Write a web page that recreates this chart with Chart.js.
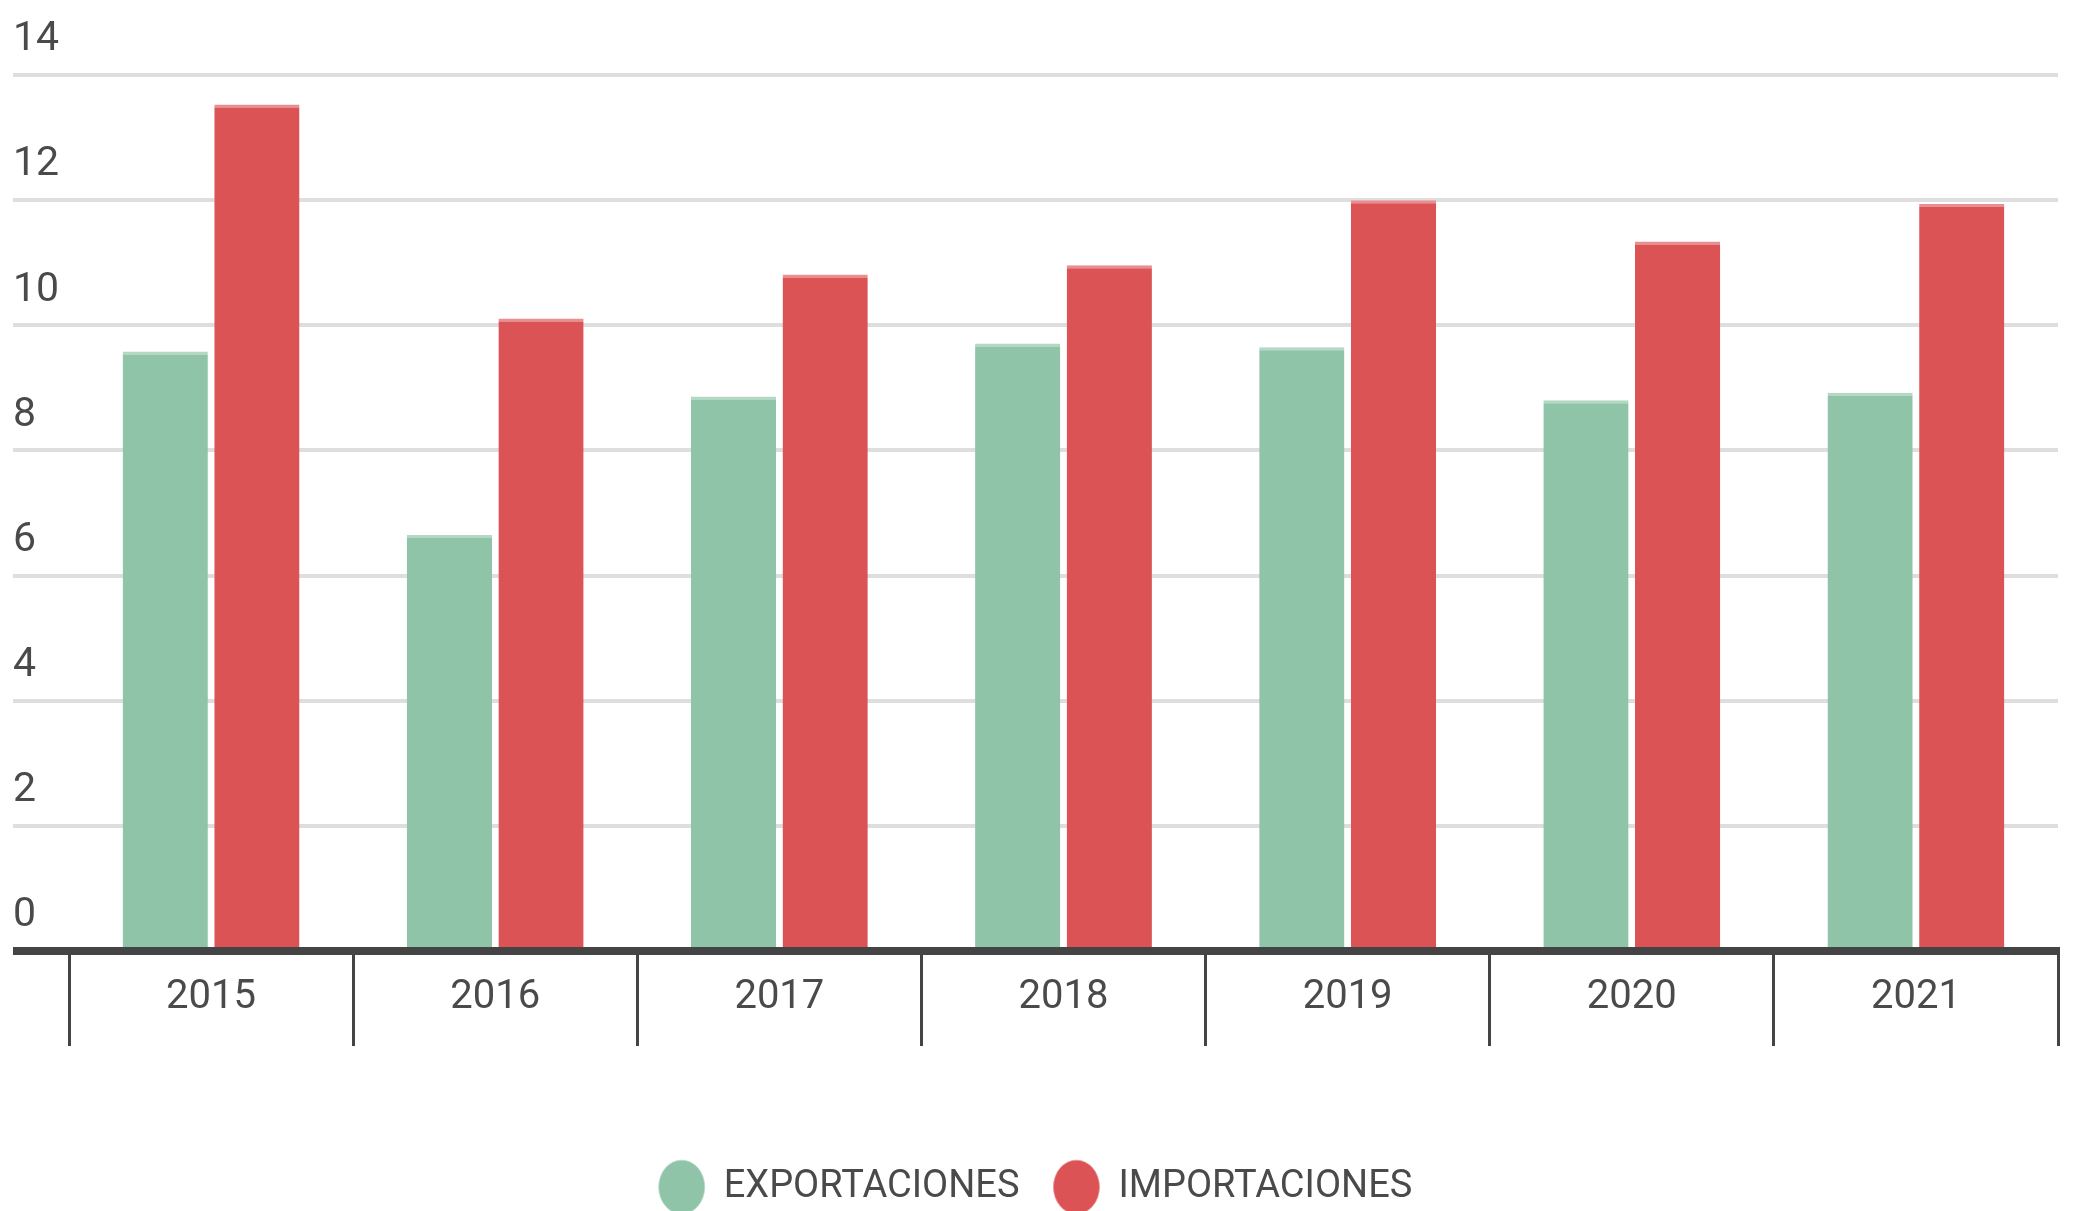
<!DOCTYPE html>
<html>
<head>
<meta charset="utf-8">
<script src="https://cdn.jsdelivr.net/npm/chart.js@4/dist/chart.umd.min.js"></script>
<style>
    body { margin: 0; background: #fff; }
    canvas { display: block; }
</style>
</head>
<body>
<canvas id="graficoComercio" width="2074" height="1211"></canvas>
<script>
const anos = ['2015', '2016', '2017', '2018', '2019', '2020', '2021']
const exportaciones = [9.58, 6.65, 8.86, 9.71, 9.65, 8.80, 8.92]
const importaciones = [13.53, 10.11, 10.81, 10.96, 12.0, 11.34, 11.94]
const ticksY = [0, 2, 4, 6, 8, 10, 12, 14]

const corTexto = '#4a4a4a'
const corEixo = '#444444'

const grafico = new Chart(document.getElementById('graficoComercio'), {
    type: 'bar',
    data: {
        labels: anos,
        datasets: [{
            label: 'EXPORTACIONES',
            data: exportaciones,
            backgroundColor: '#8fc4a9',
            borderColor: '#b3d9c5',
            borderWidth: { top: 3, left: 0, right: 0, bottom: 0 },
            borderSkipped: 'start'
        }, {
            label: 'IMPORTACIONES',
            data: importaciones,
            backgroundColor: '#dc5356',
            borderColor: '#ea8f91',
            borderWidth: { top: 3, left: 0, right: 0, bottom: 0 },
            borderSkipped: 'start'
        }]
    },
    options: {
        responsive: false,
        animation: false,
        categoryPercentage: 0.645,
        barPercentage: 0.93,
        layout: {
            padding: { top: 75, left: 13, right: 16, bottom: -5 }
        },
        plugins: {
            tooltip: { enabled: false },
            legend: {
                position: 'bottom',
                labels: {
                    usePointStyle: true,
                    pointStyle: 'circle',
                    pointStyleWidth: 46,
                    boxHeight: 38,
                    padding: 34,
                    color: corTexto,
                    font: { family: 'Roboto', size: 38 }
                }
            }
        },
        scales: {
            x: {
                offset: true,
                afterFit: (escala) => { escala.height = 183 },
                grid: {
                    offset: true,
                    drawOnChartArea: false,
                    drawTicks: true,
                    tickLength: 95,
                    color: corEixo,
                    lineWidth: 3
                },
                border: { display: true, color: corEixo, width: 8, z: 1 },
                ticks: {
                    padding: -72,
                    color: corTexto,
                    font: { family: 'Roboto', size: 40 }
                }
            },
            y: {
                min: 0,
                max: 14,
                afterFit: (escala) => { escala.width = 56 },
                afterBuildTicks: (escala) => {
                    escala.ticks = ticksY.map(v => ({ value: v }))
                },
                grid: {
                    color: (ctx) => ctx.tick && ctx.tick.value === 0 ? corEixo : '#dedede',
                    lineWidth: (ctx) => ctx.tick && ctx.tick.value === 0 ? 8 : 4,
                    tickLength: 56
                },
                border: { display: false },
                ticks: {
                    crossAlign: 'far',
                    labelOffset: -35,
                    padding: 0,
                    color: corTexto,
                    font: { family: 'Roboto', size: 41 }
                }
            }
        }
    }
})
</script>
</body>
</html>
